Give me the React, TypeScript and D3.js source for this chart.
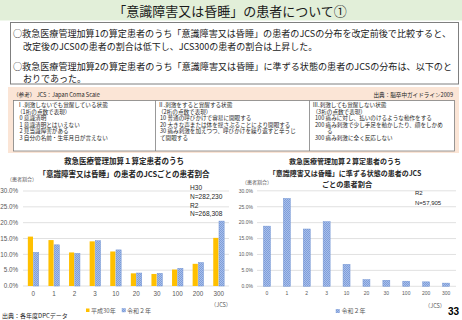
import React from "react";
import * as d3 from "d3";

const categories = ["0", "1", "2", "3", "10", "20", "30", "100", "200", "300"];
const seriesNames = ["平成30年", "令和２年"];
const h30Calc1 = [15.6, 14.5, 10.6, 14.1, 10.9, 4.0, 3.8, 5.2, 7.0, 15.2];
const r2Calc1 = [10.6, 13.0, 10.3, 14.3, 11.4, 4.1, 4.0, 5.6, 7.4, 20.5];
const r2Calc2 = [18.9, 27.6, 18.0, 20.3, 6.9, 2.1, 1.9, 1.6, 1.4, 1.0];
const yTicks = [0, 5, 10, 15, 20, 25, 30];

const titleText = "「意識障害又は昏睡」の患者について①";
const boxLines = [
  "○救急医療管理加算1の算定患者のうち「意識障害又は昏睡」の患者のJCSの分布を改定前後で比較すると、",
  "改定後のJCS0の患者の割合は低下し、JCS300の患者の割合は上昇した。",
  "○救急医療管理加算2の算定患者のうち「意識障害又は昏睡」に準ずる状態の患者のJCSの分布は、以下のと",
  "おりであった。",
];
const jcsCol1 = ["Ⅰ.刺激しないでも覚醒している状態", "（1桁の点数で表現）", "0 意識清明", "1 意識清明とはいえない", "2 見当識障害がある", "3 自分の名前・生年月日が言えない"];
const jcsCol2 = ["Ⅱ.刺激をすると覚醒する状態", "（2桁の点数で表現）", "10 普通の呼びかけで容易に開眼する", "20 大きな声または体を揺さぶることにより開眼する", "30 痛み刺激を加えつつ、呼びかけを繰り返すと辛うじ", "て開眼する"];
const jcsCol3 = ["Ⅲ.刺激しても覚醒しない状態", "（3桁の点数で表現）", "100 痛みに対し、払いのけるような動作をする", "200 痛み刺激で少し手足を動かしたり、顔をしかめ", "る", "300 痛み刺激に全く反応しない"];

const FONT = "'Noto Sans CJK JP', 'Noto Sans', sans-serif";
const YELLOW = "#ffc000";
const GRID = "#d9d9d9";
const AXIS_TEXT = "#595959";

function BlueBars({ x, y, values, offset, width }: any) {
  return (
    <g>
      {values.map((v: number, i: number) => (
        <rect
          key={i}
          x={(x(categories[i]) as number) + offset}
          y={y(v)}
          width={width}
          height={y(0) - y(v)}
          fill="url(#dots)"
          stroke="#7596d4"
          strokeWidth={0.5}
        />
      ))}
    </g>
  );
}

function LeftChart() {
  const x = d3.scaleBand<string>().domain(categories).range([23, 229]).paddingInner(0.47).paddingOuter(0.235);
  const inner = d3.scaleBand<string>().domain(seriesNames).range([0, x.bandwidth()]).paddingInner(0.1);
  const y = d3.scaleLinear().domain([0, 30]).range([286, 191]);
  return (
    <g>
      <text x={124} y={164} textAnchor="middle" fontSize={7.5} fontWeight="bold" fill="#262626">救急医療管理加算１算定患者のうち</text>
      <text x={124} y={177} textAnchor="middle" fontSize={7.5} fontWeight="bold" fill="#262626">「意識障害又は昏睡」の患者のJCSごとの患者割合</text>
      <text x={7} y={181} fontSize={5} fill={AXIS_TEXT}>（患者割合）</text>
      {yTicks.map((t) => (
        <g key={t}>
          <line x1={23} x2={229} y1={y(t)} y2={y(t)} stroke={GRID} strokeWidth={0.8} />
          <text x={18} y={y(t) + 2.2} textAnchor="end" fontSize={6.3} fill={AXIS_TEXT} fontFamily="Arial, 'Liberation Sans', sans-serif">{d3.format(".1f")(t)}%</text>
        </g>
      ))}
      {h30Calc1.map((v, i) => (
        <rect key={i} x={(x(categories[i]) as number) + (inner(seriesNames[0]) as number)} y={y(v)} width={inner.bandwidth()} height={y(0) - y(v)} fill={YELLOW} />
      ))}
      <BlueBars x={x} y={y} values={r2Calc1} offset={inner(seriesNames[1])} width={inner.bandwidth()} />
      {categories.map((c) => (
        <text key={c} x={(x(c) as number) + x.bandwidth() / 2} y={295.5} textAnchor="middle" fontSize={6.3} fill={AXIS_TEXT} fontFamily="Arial, 'Liberation Sans', sans-serif">{c}</text>
      ))}
      <g fontSize={6.6} fill="#262626" fontFamily="Arial, 'Liberation Sans', sans-serif">
        <text x={190} y={189.5}>H30</text>
        <text x={190} y={198.5}>N=282,230</text>
        <text x={190} y={207.5}>R2</text>
        <text x={190} y={216}>N=268,308</text>
      </g>
      <text x={221} y={307} textAnchor="middle" fontSize={5.5} fill={AXIS_TEXT}>（JCS）</text>
      <rect x={86} y={308.5} width={3.5} height={3.5} fill={YELLOW} />
      <text x={91} y={312.5} fontSize={6} fill={AXIS_TEXT}>{seriesNames[0]}</text>
      <rect x={122} y={308.5} width={3.5} height={3.5} fill="url(#dots)" stroke="#7596d4" strokeWidth={0.4} />
      <text x={127} y={312.5} fontSize={6} fill={AXIS_TEXT}>{seriesNames[1]}</text>
      <text x={2} y={317.5} fontSize={6} fill="#262626">出典：各年度DPCデータ</text>
    </g>
  );
}

function RightChart() {
  const x = d3.scaleBand<string>().domain(categories).range([257, 456]).paddingInner(0.65).paddingOuter(0.325);
  const y = d3.scaleLinear().domain([0, 30]).range([286.3, 190.8]);
  return (
    <g>
      <text x={345} y={164} textAnchor="middle" fontSize={7} fontWeight="bold" fill="#262626">救急医療管理加算２算定患者のうち</text>
      <text x={345} y={175.5} textAnchor="middle" fontSize={7} fontWeight="bold" fill="#262626">「意識障害又は昏睡」に準ずる状態の患者のJCS</text>
      <text x={347} y={187} textAnchor="middle" fontSize={7.2} fontWeight="bold" fill="#262626">ごとの患者割合</text>
      <text x={242} y={184} fontSize={5} fill={AXIS_TEXT}>（患者割合）</text>
      {yTicks.map((t) => (
        <g key={t}>
          <line x1={257} x2={456} y1={y(t)} y2={y(t)} stroke={GRID} strokeWidth={0.8} />
          <text x={253} y={y(t) + 1.8} textAnchor="end" fontSize={5} fill={AXIS_TEXT} fontFamily="Arial, 'Liberation Sans', sans-serif">{d3.format(".1f")(t)}%</text>
        </g>
      ))}
      <BlueBars x={x} y={y} values={r2Calc2} offset={0} width={x.bandwidth()} />
      {categories.map((c) => (
        <text key={c} x={(x(c) as number) + x.bandwidth() / 2} y={294.5} textAnchor="middle" fontSize={5} fill={AXIS_TEXT} fontFamily="Arial, 'Liberation Sans', sans-serif">{c}</text>
      ))}
      <g fontSize={6} fill="#262626" fontFamily="Arial, 'Liberation Sans', sans-serif">
        <text x={415} y={195}>R2</text>
        <text x={415} y={204.5}>N=57,905</text>
      </g>
      <text x={435} y={308} textAnchor="middle" fontSize={5.5} fill={AXIS_TEXT}>（JCS）</text>
      <rect x={336} y={309.3} width={3.5} height={3.5} fill="url(#dots)" stroke="#7596d4" strokeWidth={0.4} />
      <text x={341.5} y={313.2} fontSize={6} fill={AXIS_TEXT}>{seriesNames[1]}</text>
    </g>
  );
}

function JcsColumn({ lines, x, indent, special }: any) {
  const ys = [107, 113.5, 120, 126.5, 133, 139.5];
  return (
    <g>
      {lines.map((l: string, i: number) => (
        <text key={i} x={i < 2 ? x : special && special[i] !== undefined ? special[i] : x + indent} y={ys[i]} fontSize={5.6} fill="#262626">{l}</text>
      ))}
    </g>
  );
}

export default function App() {
  return (
    <svg width={462} height={320} viewBox="0 0 462 320" style={{ position: "absolute", left: 0, top: 0, background: "#fff" }} fontFamily={FONT}>
      <defs>
        <pattern id="dots" width={2} height={2} patternUnits="userSpaceOnUse">
          <rect width={2} height={2} fill="#a9c0ea" />
          <rect x={0} y={0} width={1} height={1} fill="#7e9dda" />
          <rect x={1} y={1} width={1} height={1} fill="#7e9dda" />
        </pattern>
      </defs>
      <rect x={0} y={0} width={462} height={20.5} fill="#e2efd9" />
      <text x={230} y={15.5} textAnchor="middle" fontSize={13} fill="#1a1a1a">{titleText}</text>

      <rect x={10.5} y={22.5} width={448} height={61.5} fill="#fff" stroke="#7f7f7f" strokeWidth={1} />
      <text x={13} y={36.5} fontSize={9} fill="#1a1a1a" textLength={438} lengthAdjust="spacingAndGlyphs">{boxLines[0]}</text>
      <text x={23} y={49.5} fontSize={9} fill="#1a1a1a">{boxLines[1]}</text>
      <text x={13} y={69.5} fontSize={9} fill="#1a1a1a" textLength={439} lengthAdjust="spacingAndGlyphs">{boxLines[2]}</text>
      <text x={23} y={81.5} fontSize={9} fill="#1a1a1a">{boxLines[3]}</text>

      <rect x={8} y={87} width={451} height={66} fill="#fbe5d6" />
      <text x={13} y={96.5} fontSize={5.6} fill="#262626">（参考） JCS：Japan Coma Scale</text>
      <text x={453} y={96.5} textAnchor="end" fontSize={5.6} fill="#262626">出典：脳卒中ガイドライン2009</text>
      <rect x={13.5} y={100.5} width={441} height={50.5} fill="#fff" stroke="#7f7f7f" strokeWidth={0.8} />
      <line x1={155.5} x2={155.5} y1={100.5} y2={151} stroke="#7f7f7f" strokeWidth={0.8} />
      <line x1={309.5} x2={309.5} y1={100.5} y2={151} stroke="#7f7f7f" strokeWidth={0.8} />
      <JcsColumn lines={jcsCol1} x={17} indent={2.5} />
      <JcsColumn lines={jcsCol2} x={158} indent={2} />
      <JcsColumn lines={jcsCol3} x={312.5} indent={2.5} special={{ 4: 327 }} />

      <LeftChart />
      <RightChart />
      <text x={448} y={315} fontSize={10} fontWeight="bold" fill="#000" fontFamily="Arial, 'Liberation Sans', sans-serif">33</text>
    </svg>
  );
}
